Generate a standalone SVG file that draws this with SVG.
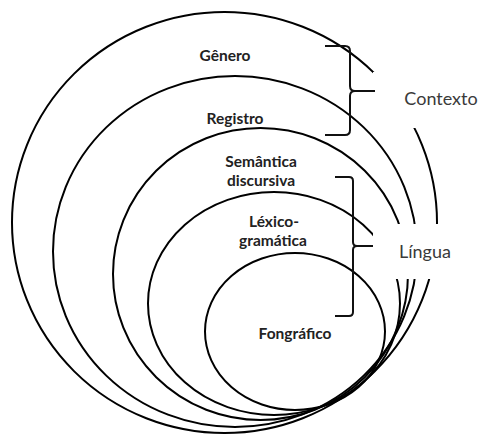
<svg xmlns="http://www.w3.org/2000/svg" width="481" height="438" viewBox="0 0 481 438">
  <style>
    .ring { fill: none; stroke: #000; stroke-width: 2; }
    .lbl { font-family: Lato, "Open Sans", "Liberation Sans", sans-serif; font-weight: bold; font-size: 15.5px; fill: #222; text-anchor: middle; }
    .big { font-family: Lato, "Open Sans", "Liberation Sans", sans-serif; font-size: 18px; fill: #3a3a3a; text-anchor: middle; }
    .brace { fill: none; stroke: #111; stroke-width: 2; stroke-linejoin: round; }
  </style>
  <defs>
    <mask id="gaps" maskUnits="userSpaceOnUse" x="0" y="0" width="481" height="438">
      <rect x="0" y="0" width="481" height="438" fill="#fff"/>
      <rect x="373" y="72" width="108" height="56" fill="#000"/>
      <rect x="373" y="224" width="108" height="55" fill="#000"/>
    </mask>
  </defs>
  <rect width="481" height="438" fill="#fff"/>
  <g mask="url(#gaps)">
    <g id="genero"><ellipse class="ring" cx="224.5" cy="222.5" rx="212.5" ry="210.5"/></g>
    <g id="registro"><ellipse class="ring" cx="235" cy="251.5" rx="182" ry="175.5"/></g>
    <g id="semantica"><ellipse class="ring" cx="260.5" cy="274" rx="147.5" ry="146"/></g>
    <g id="lexicogramatica"><ellipse class="ring" cx="274" cy="303.5" rx="126" ry="111.5"/></g>
    <g id="fonografico"><ellipse class="ring" cx="295" cy="331.5" rx="90" ry="78.5"/></g>
  </g>
  <g id="labels">
    <text class="lbl" x="225" y="61">Gênero</text>
    <text class="lbl" x="235" y="124">Registro</text>
    <text class="lbl" x="261" y="166.5">Semântica</text>
    <text class="lbl" x="261" y="185.5">discursiva</text>
    <text class="lbl" x="274" y="226.5">Léxico-</text>
    <text class="lbl" x="273" y="245.5">gramática</text>
    <text class="lbl" x="295" y="339">Fongráfico</text>
  </g>
  <g id="connectors">
    <g id="contexto">
      <path class="brace" d="M325,46 H345 Q350,46 350,51 V86 Q350,91 355,91 H375 M355,91 Q350,91 350,96 V130 Q350,135 345,135 H325"/>
      <text class="big" x="441" y="105">Contexto</text>
    </g>
    <g id="lingua">
      <path class="brace" d="M335,177 H349 Q353,177 353,181 V242 Q353,246 357,246 H373 M357,246 Q353,246 353,250 V312 Q353,316 349,316 H335"/>
      <text class="big" x="425" y="258">Língua</text>
    </g>
  </g>
</svg>
